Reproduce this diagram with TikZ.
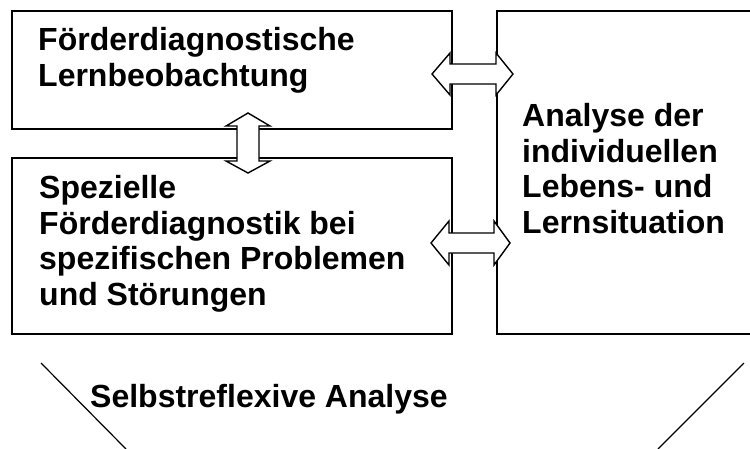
\documentclass[tikz,border=0pt]{standalone}
\usepackage{fontspec}
\setmainfont{Liberation Sans}
\begin{document}
\begin{tikzpicture}[x=1pt,y=-1pt,
  box/.style={draw=black,line width=1.6pt,fill=white},
  blockarrow/.style={draw=black,line width=1.4pt,fill=white,line join=miter},
  label/.style={inner sep=0pt,anchor=base west,align=left,font=\fontsize{32}{35.5}\selectfont\bfseries},
  funnel/.style={draw=black,line width=1.2pt}]
\useasboundingbox (0,0) rectangle (750,448);

% three boxes
\draw[box] (12,11) rectangle (452,129);
\draw[box] (12,158) rectangle (452,334);
\draw[box] (497,11) rectangle (754,334);

% box texts (anchored at the baseline of their last line)
\node[label] (t1) at (38,86) {Förderdiagnostische\\Lernbeobachtung};
\node[label] (t2) at (39,305) {Spezielle\\Förderdiagnostik bei\\spezifischen Problemen\\und Störungen};
\node[label] (t3) at (522,233) {Analyse der\\individuellen\\Lebens- und\\Lernsituation};

% vertical double block arrow between the left boxes
\draw[blockarrow] (248,113) -- (270,126) -- (259,126) -- (259,161) -- (270,161)
  -- (248,173) -- (226,161) -- (237,161) -- (237,126) -- (226,126) -- cycle;

% horizontal double block arrows towards the right box
\draw[blockarrow] (432,74) -- (450,53) -- (450,64) -- (496,64) -- (496,53)
  -- (513,74) -- (496,95) -- (496,84) -- (450,84) -- (450,95) -- cycle;
\draw[blockarrow] (431,243) -- (449,221) -- (449,233) -- (494,233) -- (494,221)
  -- (510,243) -- (494,265) -- (494,253) -- (449,253) -- (449,265) -- cycle;

% funnel at the bottom
\coordinate (fl1) at (41,363);
\coordinate (fl2) at (126,449);
\coordinate (fr1) at (744,363);
\coordinate (fr2) at (658,449);
\draw[funnel] (fl1) -- (fl2);
\draw[funnel] (fr1) -- (fr2);
\node[label] (t4) at (90,407) {Selbstreflexive Analyse};
\end{tikzpicture}
\end{document}
